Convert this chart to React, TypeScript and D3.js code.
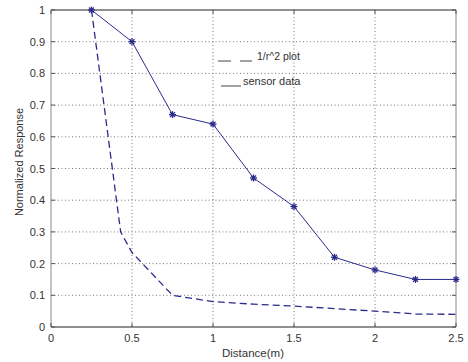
import React from "react";
import * as d3 from "d3";

const sensorX = [0.25, 0.5, 0.75, 1.0, 1.25, 1.5, 1.75, 2.0, 2.25, 2.5];
const sensorY = [1.0, 0.9, 0.67, 0.64, 0.47, 0.38, 0.22, 0.18, 0.15, 0.15];
const invSqX = [0.25, 0.43, 0.5, 0.75, 1.0, 1.25, 1.5, 1.75, 2.0, 2.25, 2.5];
const invSqY = [1.0, 0.3, 0.235, 0.1, 0.08, 0.072, 0.066, 0.058, 0.05, 0.041, 0.04];
const xTicks = [0, 0.5, 1, 1.5, 2, 2.5];
const yTicks = [0, 0.1, 0.2, 0.3, 0.4, 0.5, 0.6, 0.7, 0.8, 0.9, 1];
const xLabel = "Distance(m)";
const yLabel = "Normalized Response";
const legendLabels = ["1/r^2 plot", "sensor data"];

const W = 468, H = 362;
const L = 51, R = 456, T = 10, B = 327;
const navy = "#2b2b8c";
const txt = "#333";

export default function App() {
  const x = d3.scaleLinear().domain([0, 2.5]).range([L, R]);
  const y = d3.scaleLinear().domain([0, 1]).range([B, T]);
  const line = d3.line<[number, number]>().x(d => x(d[0])).y(d => y(d[1]));
  const sensor = sensorX.map((v, i) => [v, sensorY[i]] as [number, number]);
  const inv = invSqX.map((v, i) => [v, invSqY[i]] as [number, number]);
  const star = (cx: number, cy: number, k: number) => {
    const s = 3.5;
    return (
      <g key={k} stroke={navy} strokeWidth={1.3}>
        <line x1={cx - s} y1={cy} x2={cx + s} y2={cy} />
        <line x1={cx} y1={cy - s} x2={cx} y2={cy + s} />
        <line x1={cx - s * 0.7} y1={cy - s * 0.7} x2={cx + s * 0.7} y2={cy + s * 0.7} />
        <line x1={cx - s * 0.7} y1={cy + s * 0.7} x2={cx + s * 0.7} y2={cy - s * 0.7} />
      </g>
    );
  };
  return (
    <svg width={W} height={H} style={{ position: "absolute", left: 0, top: 0, background: "#fff" }}
      fontFamily="Liberation Sans, Arial, sans-serif">
      <rect x={0} y={0} width={W} height={H} fill="#fff" />
      {xTicks.slice(1, -1).map((t, i) => (
        <line key={"gx" + i} x1={x(t)} x2={x(t)} y1={T} y2={B} stroke="#555" strokeWidth={0.8} strokeDasharray="1,2.5" />
      ))}
      {yTicks.slice(1, -1).map((t, i) => (
        <line key={"gy" + i} x1={L} x2={R} y1={y(t)} y2={y(t)} stroke="#555" strokeWidth={0.8} strokeDasharray="1,2.5" />
      ))}
      <line x1={L} x2={R} y1={T} y2={T} stroke="#222" strokeWidth={1.2} />
      <line x1={R} x2={R} y1={T} y2={B} stroke="#888" strokeWidth={1} />
      <line x1={L} x2={L} y1={T} y2={B} stroke="#888" strokeWidth={1} />
      <line x1={L} x2={R} y1={B} y2={B} stroke="#222" strokeWidth={1.2} />
      {yTicks.map((t, i) => (
        <g key={"ty" + i}>
          <line x1={L} x2={L + 4} y1={y(t)} y2={y(t)} stroke="#555" />
          <line x1={R} x2={R - 4} y1={y(t)} y2={y(t)} stroke="#555" />
          <text x={L - 6} y={y(t) + 4} textAnchor="end" fontSize={11} fill={txt}>{String(t)}</text>
        </g>
      ))}
      {xTicks.map((t, i) => (
        <g key={"tx" + i}>
          <line x1={x(t)} x2={x(t)} y1={B} y2={B - 4} stroke="#555" />
          <line x1={x(t)} x2={x(t)} y1={T} y2={T + 4} stroke="#555" />
          <text x={x(t)} y={B + 15} textAnchor="middle" fontSize={11} fill={txt}>{String(t)}</text>
        </g>
      ))}
      <text x={253} y={357} textAnchor="middle" fontSize={11.5} fill={txt}>{xLabel}</text>
      <text transform={`translate(23,162) rotate(-90)`} textAnchor="middle" fontSize={11} fill={txt}>{yLabel}</text>
      <path d={line(inv) || ""} fill="none" stroke={navy} strokeWidth={1.3} strokeDasharray="7,4" />
      <path d={line(sensor) || ""} fill="none" stroke={navy} strokeWidth={1} />
      {sensor.map((d, i) => star(x(d[0]), y(d[1]), i))}
      <line x1={218} x2={231} y1={61} y2={61} stroke="#444" strokeWidth={1} />
      <line x1={240} x2={252} y1={61} y2={61} stroke="#444" strokeWidth={1} />
      <text x={257} y={60} fontSize={10.5} fill={txt}>{legendLabels[0]}</text>
      <line x1={221} x2={241} y1={86} y2={86} stroke="#444" strokeWidth={1} />
      <text x={243} y={85} fontSize={11} fill={txt}>{legendLabels[1]}</text>
    </svg>
  );
}
